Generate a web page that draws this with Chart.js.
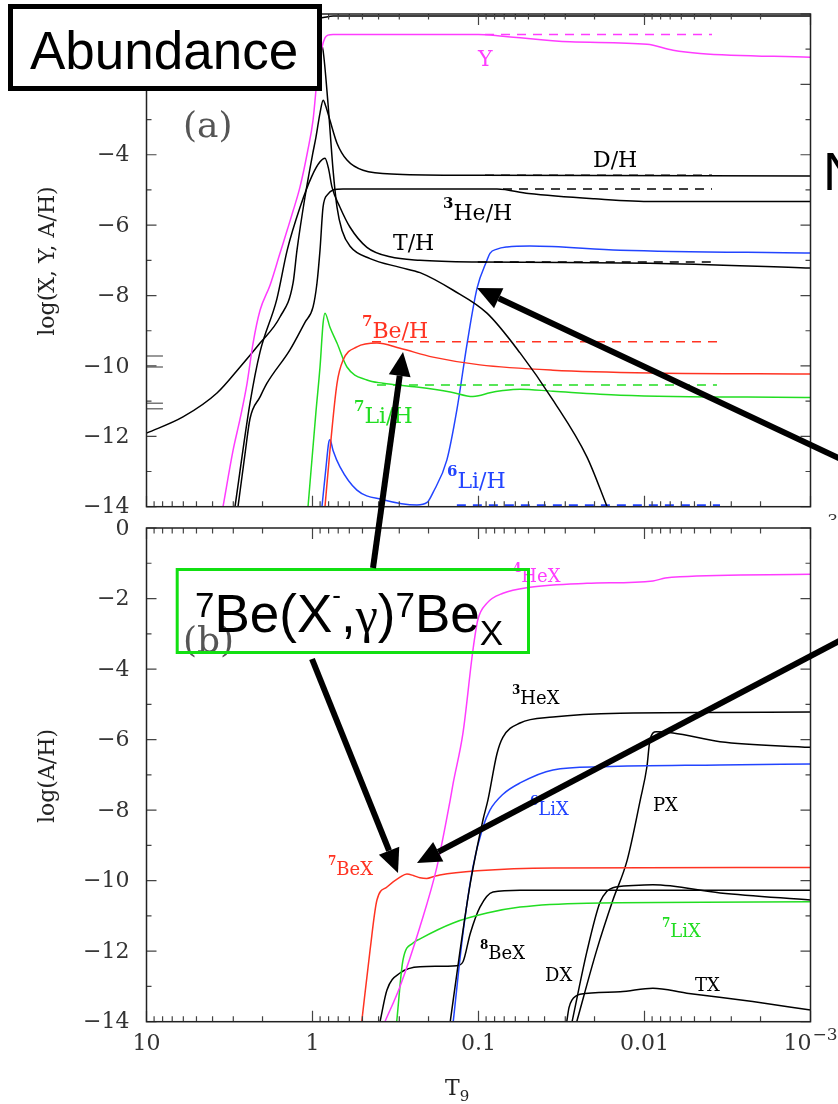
<!DOCTYPE html>
<html><head><meta charset="utf-8">
<script src="https://cdn.jsdelivr.net/npm/chart.js@4.4.1/dist/chart.umd.min.js"></script>
<style>
html,body{margin:0;padding:0;background:#fff;}
#wrap{position:relative;width:838px;height:1104px;overflow:hidden;background:#fff;}
canvas{position:absolute;left:0;top:0;}
</style></head><body>
<div id="wrap"><canvas id="c1" width="838" height="1104"></canvas><canvas id="c2" width="838" height="1104"></canvas></div>
<script>
// ---------- axis ticks ----------
const xTickValues = [10, 1, 0.1, 0.01, 0.001];
const xTickLabels = ['10', '1', '0.1', '0.01', '10'];
const xTickSup = ['', '', '', '', '\u22123'];
const xMinorMult = [2, 3, 4, 5, 6, 7, 8, 9];
const yTickValues = [0, -2, -4, -6, -8, -10, -12, -14];
const yTickLabelsA = ['', '', '\u22124', '\u22126', '\u22128', '\u221210', '\u221212', '\u221214'];
const yTickLabelsB = ['0', '\u22122', '\u22124', '\u22126', '\u22128', '\u221210', '\u221212', '\u221214'];

// ---------- panel (a): [T9, log abundance] ----------
const hydrogenA = [[10,-0.25],[1.2,-0.2],[0.86,-0.1],[0.75,-0.06],[0.001,-0.06]];
const heliumY = [[3.46,-14],[3.01,-12.4],[2.73,-11.5],[2.48,-10.5],[2.28,-9.35],[2.07,-8.42],[1.8,-7.7],[1.57,-6.8],[1.42,-6.14],[1.31,-5.6],[1.19,-4.92],[1.07,-3.9],[0.993,-3.02],[0.927,-1.6],[0.877,-0.95],[0.841,-0.68],[0.807,-0.6],[0.752,-0.58],[0.1,-0.58],[0.0712,-0.63],[0.0281,-0.79],[0.00966,-0.86],[0.00673,-1.03],[0.00463,-1.12],[0.001,-1.23]];
const heliumYstd = [[0.0914,-0.58],[0.00392,-0.58]];
const deutH = [[10,-11.91],[6.03,-11.45],[3.76,-10.77],[2.73,-10.03],[2.07,-9.35],[1.57,-8.61],[1.31,-7.65],[1.24,-6.71],[1.11,-5.2],[1.0,-4.0],[0.953,-3.5],[0.9,-2.8],[0.862,-2.45],[0.835,-2.6],[0.785,-3.02],[0.712,-3.67],[0.62,-4.15],[0.496,-4.44],[0.31,-4.55],[0.098,-4.58],[0.001,-4.6]];
const deutHstd = [[0.0914,-4.58],[0.00392,-4.58]];
const tritH = [[2.93,-14],[2.38,-11.06],[2.07,-9.6],[1.64,-8.1],[1.42,-6.71],[1.19,-5.5],[1.007,-4.6],[0.901,-4.2],[0.841,-4.1],[0.8,-4.4],[0.763,-4.92],[0.683,-5.49],[0.594,-6.06],[0.47,-6.63],[0.341,-6.9],[0.225,-7.0],[0.098,-7.05],[0.00927,-7.08],[0.001,-7.22]];
const tritHstd = [[0.101,-7.05],[0.00392,-7.05]];
const he3H = [[2.81,-14],[2.55,-12.5],[2.38,-11.5],[2.07,-10.88],[1.88,-10.49],[1.37,-9.55],[1.11,-8.76],[0.993,-8.33],[0.94,-7.65],[0.901,-6.71],[0.864,-5.49],[0.807,-5.12],[0.752,-5.0],[0.655,-4.97],[0.0774,-4.97],[0.05,-5.1],[0.02,-5.25],[0.0089,-5.33],[0.001,-5.33]];
const he3Hstd = [[0.0712,-4.97],[0.00392,-4.97]];
const neutH = [[10,-0.2],[1.37,-0.35],[0.966,-0.6],[0.901,-0.8],[0.864,-1.03],[0.807,-2.53],[0.752,-4.43],[0.712,-5.49],[0.664,-6.15],[0.594,-6.6],[0.45,-6.95],[0.297,-7.2],[0.225,-7.35],[0.142,-7.85],[0.0889,-8.5],[0.0562,-9.63],[0.0356,-10.97],[0.0222,-12.59],[0.0168,-14]];
const be7H = [[0.841,-14],[0.785,-12.4],[0.712,-10.5],[0.655,-9.84],[0.54,-9.46],[0.409,-9.35],[0.297,-9.5],[0.188,-9.75],[0.098,-9.97],[0.0356,-10.12],[0.00889,-10.2],[0.001,-10.23]];
const be7Hstd = [[0.438,-9.31],[0.00351,-9.31]];
const li7H = [[1.064,-14],[0.953,-11.3],[0.9,-10.0],[0.864,-8.8],[0.841,-8.5],[0.785,-8.9],[0.712,-9.35],[0.62,-10.03],[0.47,-10.4],[0.376,-10.49],[0.235,-10.6],[0.148,-10.74],[0.108,-10.87],[0.1,-10.85],[0.0853,-10.76],[0.0712,-10.7],[0.0562,-10.66],[0.0356,-10.72],[0.014,-10.83],[0.001,-10.9]];
const li7Hstd = [[0.409,-10.54],[0.00366,-10.54]];
const li6H = [[0.877,-14],[0.83,-12.9],[0.8,-12.2],[0.785,-12.1],[0.752,-12.4],[0.683,-12.87],[0.54,-13.53],[0.376,-13.8],[0.235,-13.95],[0.204,-13.88],[0.188,-13.6],[0.155,-12.67],[0.135,-11.25],[0.117,-9.35],[0.102,-7.79],[0.0889,-7.0],[0.0853,-6.8],[0.0773,-6.68],[0.0673,-6.62],[0.049,-6.59],[0.014,-6.71],[0.001,-6.79]];
const li6Hstd = [[0.135,-13.96],[0.00351,-13.96]];
const obsMarkT = [10, 7.96];
const obsMarkLevels = [-9.72, -10.03, -11.06, -11.22];

// ---------- panel (b): bound states ----------
const he4X = [[0.366,-14],[0.297,-13],[0.225,-11.3],[0.178,-9.61],[0.148,-7.71],[0.142,-7.23],[0.124,-5.81],[0.108,-3.46],[0.101,-2.61],[0.0889,-2.13],[0.0712,-1.85],[0.049,-1.68],[0.0222,-1.57],[0.00889,-1.5],[0.0075,-1.42],[0.00611,-1.38],[0.001,-1.31]];
const he3X = [[0.148,-14],[0.129,-11.97],[0.112,-10.07],[0.094,-8.28],[0.0877,-7.71],[0.0774,-6.4],[0.0712,-5.93],[0.0562,-5.53],[0.0356,-5.36],[0.014,-5.25],[0.001,-5.22]];
const li6X = [[0.142,-14],[0.124,-11.49],[0.108,-9.61],[0.094,-8.48],[0.0853,-8.0],[0.0712,-7.55],[0.0562,-7.23],[0.0356,-6.86],[0.0178,-6.77],[0.00351,-6.72],[0.001,-6.69]];
const be7X = [[0.505,-14],[0.45,-11.97],[0.409,-10.55],[0.356,-10.18],[0.297,-9.9],[0.27,-9.81],[0.245,-9.86],[0.225,-9.92],[0.205,-9.94],[0.185,-9.88],[0.171,-9.84],[0.102,-9.72],[0.0356,-9.64],[0.001,-9.63]];
const li7X = [[0.311,-14],[0.285,-12.25],[0.248,-11.77],[0.225,-11.65],[0.142,-11.2],[0.0889,-10.92],[0.0562,-10.75],[0.0222,-10.64],[0.001,-10.6]];
const be8X = [[0.392,-14],[0.356,-13.1],[0.297,-12.62],[0.225,-12.44],[0.135,-12.41],[0.124,-12.3],[0.112,-11.49],[0.098,-10.75],[0.0818,-10.32],[0.0562,-10.27],[0.001,-10.27]];
const dX = [[0.0273,-14],[0.0222,-12.0],[0.0185,-10.6],[0.0169,-10.31],[0.0155,-10.2],[0.0117,-10.14],[0.00889,-10.12],[0.0035,-10.35],[0.001,-10.55]];
const pX = [[0.0256,-14],[0.0194,-11.97],[0.0155,-10.55],[0.0127,-9.41],[0.0106,-7.71],[0.00967,-6.77],[0.00927,-6.01],[0.0085,-5.78],[0.00673,-5.81],[0.00351,-6.06],[0.001,-6.22]];
const tX = [[0.0294,-14],[0.0285,-13.6],[0.0273,-13.38],[0.0258,-13.27],[0.0245,-13.22],[0.014,-13.15],[0.0089,-13.05],[0.00556,-13.19],[0.00223,-13.43],[0.001,-13.67]];

// ---------- styles ----------
const MAG = '#ff3cff', RED = '#ff3322', GRN = '#22dd22', BLU = '#2244ff', BLK = '#000000', GRY = '#777777';
const SERIF = "'DejaVu Serif', serif";
const SANS = "'Liberation Sans', Arial, sans-serif";

function ds(arr, color, dashed, width) {
  return {
    data: arr.map(p => ({x: p[0], y: p[1]})),
    borderColor: color, borderWidth: width || 1.5,
    borderDash: dashed ? [9, 7] : [],
    pointRadius: 0, fill: false, cubicInterpolationMode: 'monotone'
  };
}

function rich(ctx, x, y, parts, color) {
  ctx.fillStyle = color; ctx.textAlign = 'left'; ctx.textBaseline = 'alphabetic';
  for (const [t, font, dy] of parts) {
    ctx.font = font; ctx.fillText(t, x, y + dy); x += ctx.measureText(t).width;
  }
}
function lab(ctx, x, y, sup, main, color, size) {
  const parts = [];
  const s = size || 22;
  if (sup) parts.push([sup, 'bold ' + Math.round(s * 0.66) + 'px ' + SERIF, -Math.round(s * 0.55)]);
  parts.push([main, s + 'px ' + SERIF, 0]);
  rich(ctx, x, y, parts, color);
}

function drawFrame(chart, yLabels) {
  const {ctx, chartArea: a, scales: {x, y}} = chart;
  ctx.save();
  ctx.strokeStyle = '#444'; ctx.lineWidth = 1.2;
  ctx.beginPath();
  const tick = (px, py, dx, dy) => { ctx.moveTo(px, py); ctx.lineTo(px + dx, py + dy); };
  xTickValues.forEach(d => {
    const px = x.getPixelForValue(d);
    tick(px, a.bottom, 0, -11); tick(px, a.top, 0, 11);
  });
  xTickValues.slice(1).forEach(d => {
    xMinorMult.forEach(m => {
      const px = x.getPixelForValue(m * d);
      tick(px, a.bottom, 0, -5.5); tick(px, a.top, 0, 5.5);
    });
  });
  for (let v = -14; v <= 0; v++) {
    const py = y.getPixelForValue(v);
    const len = (v % 2 === 0) ? 10 : 5;
    tick(a.left, py, len, 0); tick(a.right, py, -len, 0);
  }
  ctx.stroke();
  ctx.strokeStyle = '#222'; ctx.lineWidth = 1.5;
  ctx.strokeRect(a.left, a.top, a.right - a.left, a.bottom - a.top);
  // y tick labels
  ctx.font = '22px ' + SERIF; ctx.fillStyle = '#333'; ctx.textAlign = 'right'; ctx.textBaseline = 'middle';
  yTickValues.forEach((v, i) => { if (yLabels[i]) ctx.fillText(yLabels[i], a.left - 17, y.getPixelForValue(v) + 1); });
  ctx.restore();
}

function yTitle(ctx, cx, cy, text) {
  ctx.save(); ctx.translate(cx, cy); ctx.rotate(-Math.PI / 2);
  ctx.font = '22px ' + SERIF; ctx.fillStyle = '#222'; ctx.textAlign = 'center'; ctx.textBaseline = 'middle';
  ctx.fillText(text, 0, 0); ctx.restore();
}

function arrow(ctx, x1, y1, x2, y2) {
  const a = Math.atan2(y2 - y1, x2 - x1), L = 24, W = 11;
  const bx = x2 - L * Math.cos(a), by = y2 - L * Math.sin(a);
  ctx.strokeStyle = '#000'; ctx.fillStyle = '#000'; ctx.lineWidth = 6; ctx.lineCap = 'butt';
  ctx.beginPath(); ctx.moveTo(x1, y1); ctx.lineTo(bx, by); ctx.stroke();
  ctx.beginPath(); ctx.moveTo(x2, y2);
  ctx.lineTo(bx + W * Math.sin(a), by - W * Math.cos(a));
  ctx.lineTo(bx - W * Math.sin(a), by + W * Math.cos(a));
  ctx.closePath(); ctx.fill();
}

function baseOptions(geom) {
  return {
    responsive: false, animation: false, devicePixelRatio: 1, events: [],
    layout: {padding: {left: 0, right: geom.padRight, top: geom.padTop, bottom: 0}},
    plugins: {legend: {display: false}, tooltip: {enabled: false}, title: {display: false}},
    scales: {
      x: {type: 'logarithmic', min: 0.001, max: 10, reverse: true,
          ticks: {display: false}, grid: {display: false, drawTicks: false}, border: {display: false},
          afterFit(s) { s.height = geom.xh; }},
      y: {type: 'linear', min: -14, max: 0,
          ticks: {display: false, stepSize: 2},
          grid: {display: false, drawTicks: false}, border: {display: false},
          afterFit(s) { s.width = geom.yw; }}
    }
  };
}

// build a chart and nudge the layout until the plot area sits where the figure has it
function makePanel(canvas, datasets, geom, target, plugin) {
  const ch = new Chart(canvas, {type: 'line', data: {datasets}, options: baseOptions(geom), plugins: [plugin]});
  for (let k = 0; k < 6; k++) {
    const a = ch.chartArea;
    if (!a) break;
    const dt = target.top - a.top, db = target.bottom - a.bottom;
    const dl = target.left - a.left, dr = target.right - a.right;
    if (Math.abs(dt) + Math.abs(db) + Math.abs(dl) + Math.abs(dr) < 0.2) break;
    geom.padTop += dt; geom.xh -= db; geom.yw += dl; geom.padRight -= dr;
    ch.options.layout.padding = {left: 0, right: geom.padRight, top: geom.padTop, bottom: 0};
    ch.update('none');
  }
  return ch;
}

// ---------- chart (a) ----------
const dsA = [
  ds(hydrogenA, BLK), ds(heliumY, MAG), ds(heliumYstd, MAG, true),
  ds(deutH, BLK), ds(deutHstd, BLK, true), ds(tritH, BLK), ds(tritHstd, BLK, true),
  ds(he3H, BLK), ds(he3Hstd, BLK, true), ds(neutH, BLK),
  ds(be7H, RED), ds(be7Hstd, RED, true), ds(li7H, GRN), ds(li7Hstd, GRN, true),
  ds(li6H, BLU), ds(li6Hstd, BLU, true, 2)
];
obsMarkLevels.forEach(v => dsA.push(ds(obsMarkT.map(t => [t, v]), GRY, false, 1.5)));

const panelA = {
  id: 'panelA',
  afterDraw(chart) {
    drawFrame(chart, yTickLabelsA);
    const ctx = chart.ctx;
    ctx.save();
    yTitle(ctx, 48, 261, 'log(X, Y, A/H)');
    lab(ctx, 478, 66, '', 'Y', MAG, 22);
    lab(ctx, 593, 167, '', 'D/H', BLK);
    lab(ctx, 443, 220, '3', 'He/H', BLK);
    lab(ctx, 393, 250, '', 'T/H', BLK);
    lab(ctx, 362, 338, '7', 'Be/H', RED);
    lab(ctx, 354, 423, '7', 'Li/H', GRN);
    lab(ctx, 447, 488, '6', 'Li/H', BLU);
    ctx.font = '36px ' + SERIF; ctx.fillStyle = '#555'; ctx.textAlign = 'left';
    ctx.fillText('(a)', 183, 137);
    // clipped remnant of the hidden upper-panel tick label
    ctx.beginPath(); ctx.rect(0, 0, 838, 520); ctx.clip();
    ctx.font = '17px ' + SERIF; ctx.fillStyle = '#333';
    ctx.fillText('\u22123', 813, 526);
    ctx.restore();
  }
};

makePanel(document.getElementById('c1'), dsA,
  {padTop: 14, padRight: 27.5, xh: 1104 - 506.7, yw: 146.5},
  {top: 14, bottom: 506.7, left: 146.5, right: 810.5}, panelA);

// ---------- chart (b) ----------
const dsB = [
  ds(he4X, MAG), ds(he3X, BLK), ds(li6X, BLU), ds(be7X, RED), ds(li7X, GRN),
  ds(be8X, BLK), ds(dX, BLK), ds(pX, BLK), ds(tX, BLK)
];

const panelB = {
  id: 'panelB',
  afterDraw(chart) {
    drawFrame(chart, yTickLabelsB);
    const {ctx, scales: {x}} = chart;
    ctx.save();
    yTitle(ctx, 48, 776, 'log(A/H)');
    // x tick labels
    ctx.fillStyle = '#333'; ctx.textBaseline = 'alphabetic';
    xTickValues.forEach((v, i) => {
      const px = x.getPixelForValue(v);
      ctx.font = '22px ' + SERIF;
      if (xTickSup[i]) {
        ctx.textAlign = 'right'; ctx.fillText(xTickLabels[i], px + 1, 1050);
        ctx.textAlign = 'left'; ctx.font = '17px ' + SERIF; ctx.fillText(xTickSup[i], px + 2, 1040);
      } else {
        ctx.textAlign = 'center'; ctx.fillText(xTickLabels[i], px, 1050);
      }
    });
    rich(ctx, 445, 1095, [['T', '22px ' + SERIF, 0], ['9', '15px ' + SERIF, 6]], '#222');
    // curve labels
    lab(ctx, 513, 582, '4', 'HeX', MAG, 18);
    lab(ctx, 512, 704, '3', 'HeX', BLK, 18);
    lab(ctx, 530, 815, '6', 'LiX', BLU, 18);
    lab(ctx, 653, 811, '', 'PX', BLK, 18);
    lab(ctx, 328, 875, '7', 'BeX', RED, 18);
    lab(ctx, 480, 959, '8', 'BeX', BLK, 18);
    lab(ctx, 545, 981, '', 'DX', BLK, 18);
    lab(ctx, 662, 937, '7', 'LiX', GRN, 18);
    lab(ctx, 695, 991, '', 'TX', BLK, 18);
    ctx.font = '36px ' + SERIF; ctx.fillStyle = '#555'; ctx.textAlign = 'left';
    ctx.fillText('(b)', 183, 652);

    // ----- overlays -----
    ctx.fillStyle = '#fff'; ctx.fillRect(8, 4, 314, 87);
    ctx.strokeStyle = '#000'; ctx.lineWidth = 5; ctx.strokeRect(10.5, 6.5, 309, 82);
    ctx.fillStyle = '#000'; ctx.font = '53px ' + SANS; ctx.textAlign = 'left';
    ctx.fillText('Abundance', 30, 69);
    ctx.fillText('N', 823, 190);
    ctx.strokeStyle = '#11e011'; ctx.lineWidth = 3; ctx.strokeRect(177.2, 569.5, 351.3, 83);
    rich(ctx, 195, 632, [
      ['7', '35px ' + SANS, -15], ['Be(X', '53px ' + SANS, 0], ['-', '26px ' + SANS, -28],
      [',', '53px ' + SANS, 0], ['\u03b3', "50px 'Liberation Serif', serif", 0], [')', '53px ' + SANS, 0],
      ['7', '35px ' + SANS, -15], ['Be', '53px ' + SANS, 0], ['X', '35px ' + SANS, 13]
    ], '#000');
    arrow(ctx, 373, 568, 403, 352);
    arrow(ctx, 845, 461, 477, 288);
    arrow(ctx, 312, 659, 398, 873);
    arrow(ctx, 845, 638, 417, 863);
    ctx.restore();
  }
};

makePanel(document.getElementById('c2'), dsB,
  {padTop: 528, padRight: 27.5, xh: 1104 - 1021.7, yw: 146.5},
  {top: 528, bottom: 1021.7, left: 146.5, right: 810.5}, panelB);
</script>
</body></html>
